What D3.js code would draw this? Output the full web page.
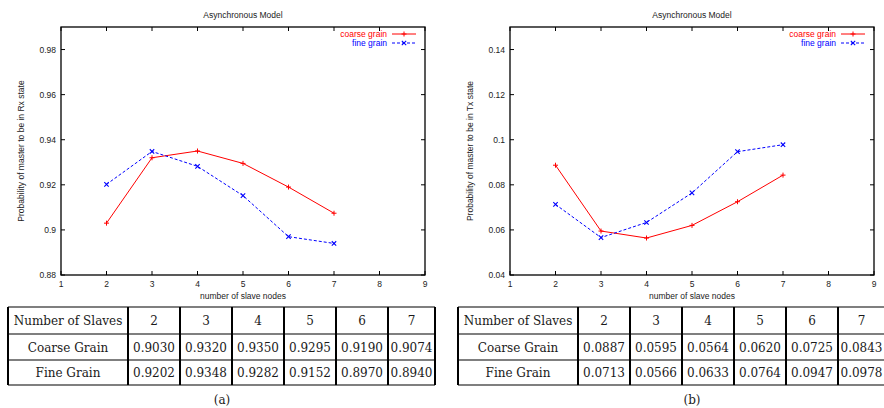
<!DOCTYPE html>
<html>
<head>
<meta charset="utf-8">
<script src="https://cdn.jsdelivr.net/npm/d3@7"></script>
<style>
  body { margin: 0; background: #fff; }
  svg { display: block; }
  .lbl { font-family: "Liberation Sans", Arial, sans-serif; font-size: 8.5px; fill: #222; }
  .tbl { font-family: "DejaVu Serif", "Liberation Serif", serif; font-size: 12px; fill: #1a1a1a; }
</style>
</head>
<body>
<svg id="chart" width="884" height="408"></svg>
<script>
// data
var slaves = [2, 3, 4, 5, 6, 7];
var rxCoarse = [0.9030, 0.9320, 0.9350, 0.9295, 0.9190, 0.9074];
var rxFine   = [0.9202, 0.9348, 0.9282, 0.9152, 0.8970, 0.8940];
var txCoarse = [0.0887, 0.0595, 0.0564, 0.0620, 0.0725, 0.0843];
var txFine   = [0.0713, 0.0566, 0.0633, 0.0764, 0.0947, 0.0978];
var xTicks = [1, 2, 3, 4, 5, 6, 7, 8, 9];
var rxTicks = [0.88, 0.9, 0.92, 0.94, 0.96, 0.98];
var txTicks = [0.04, 0.06, 0.08, 0.1, 0.12, 0.14];
var rxStr = { coarse: ["0.9030","0.9320","0.9350","0.9295","0.9190","0.9074"],
              fine:   ["0.9202","0.9348","0.9282","0.9152","0.8970","0.8940"] };
var txStr = { coarse: ["0.0887","0.0595","0.0564","0.0620","0.0725","0.0843"],
              fine:   ["0.0713","0.0566","0.0633","0.0764","0.0947","0.0978"] };

var svg = d3.select("#chart");

function drawPlot(left, yDomain, yTicks, coarse, fine, yLabel) {
  var g = svg.append("g");
  var x = d3.scaleLinear().domain([1, 9]).range([left, left + 364]);
  var y = d3.scaleLinear().domain(yDomain).range([275, 27]);
  var fmt = function(d) { return d3.format("~g")(+d.toFixed(4)); };

  // ticks, inward and mirrored
  var tl = 4;
  xTicks.forEach(function(t) {
    g.append("line").attr("x1", x(t)).attr("x2", x(t)).attr("y1", 275).attr("y2", 275 - tl).attr("stroke", "#000");
    g.append("line").attr("x1", x(t)).attr("x2", x(t)).attr("y1", 27).attr("y2", 27 + tl).attr("stroke", "#000");
    g.append("text").attr("class", "lbl").attr("x", x(t)).attr("y", 287)
      .attr("text-anchor", "middle").text(t);
  });
  yTicks.forEach(function(t) {
    g.append("line").attr("x1", left).attr("x2", left + tl).attr("y1", y(t)).attr("y2", y(t)).attr("stroke", "#000");
    g.append("line").attr("x1", left + 364).attr("x2", left + 364 - tl).attr("y1", y(t)).attr("y2", y(t)).attr("stroke", "#000");
    g.append("text").attr("class", "lbl").attr("x", left - 5).attr("y", y(t) + 3)
      .attr("text-anchor", "end").text(fmt(t));
  });

  g.append("rect").attr("x", left).attr("y", 27).attr("width", 364).attr("height", 248)
    .attr("fill", "none").attr("stroke", "#000").attr("stroke-width", 1.3);

  g.append("text").attr("class", "lbl").attr("x", left + 182).attr("y", 18)
    .attr("text-anchor", "middle").text("Asynchronous Model");
  g.append("text").attr("class", "lbl").attr("x", left + 182).attr("y", 299)
    .attr("text-anchor", "middle").text("number of slave nodes");
  g.append("text").attr("class", "lbl")
    .attr("transform", "translate(" + (left - 37) + ",151) rotate(-90)")
    .attr("text-anchor", "middle").text(yLabel);

  var line = d3.line().x(function(d, i) { return x(slaves[i]); }).y(function(d) { return y(d); });

  g.append("path").datum(coarse).attr("d", line).attr("fill", "none")
    .attr("stroke", "#ff0000").attr("stroke-width", 1);
  g.append("path").datum(fine).attr("d", line).attr("fill", "none")
    .attr("stroke", "#0000ff").attr("stroke-width", 1).attr("stroke-dasharray", "3,2");

  function plus(px, py, col) {
    g.append("path").attr("d", "M" + (px - 2.5) + "," + py + "H" + (px + 2.5) + "M" + px + "," + (py - 2.5) + "V" + (py + 2.5))
      .attr("stroke", col).attr("stroke-width", 1);
  }
  function cross(px, py, col) {
    g.append("path").attr("d", "M" + (px - 2.2) + "," + (py - 2.2) + "L" + (px + 2.2) + "," + (py + 2.2) +
      "M" + (px - 2.2) + "," + (py + 2.2) + "L" + (px + 2.2) + "," + (py - 2.2))
      .attr("stroke", col).attr("stroke-width", 1.1);
  }
  coarse.forEach(function(v, i) { plus(x(slaves[i]), y(v), "#ff0000"); });
  fine.forEach(function(v, i) { cross(x(slaves[i]), y(v), "#0000ff"); });

  // legend
  var lx = left + 331, ly1 = 34, ly2 = 43;
  g.append("text").attr("class", "lbl").attr("x", lx - 5).attr("y", ly1 + 3)
    .attr("text-anchor", "end").style("fill", "#ff0000").text("coarse grain");
  g.append("line").attr("x1", lx).attr("x2", lx + 24).attr("y1", ly1).attr("y2", ly1).attr("stroke", "#ff0000");
  plus(lx + 12, ly1, "#ff0000");
  g.append("text").attr("class", "lbl").attr("x", lx - 5).attr("y", ly2 + 3)
    .attr("text-anchor", "end").style("fill", "#0000ff").text("fine grain");
  g.append("line").attr("x1", lx).attr("x2", lx + 24).attr("y1", ly2).attr("y2", ly2)
    .attr("stroke", "#0000ff").attr("stroke-dasharray", "3,2");
  cross(lx + 12, ly2, "#0000ff");
}

function drawTable(left, strs, caption, capX) {
  var g = svg.append("g");
  var colW = 52, firstW = 120;
  var rows = [["Number of Slaves"].concat(slaves.map(String)),
              ["Coarse Grain"].concat(strs.coarse),
              ["Fine Grain"].concat(strs.fine)];
  var rowY = [307, 334, 360, 385];
  var colX = [left, left + firstW];
  slaves.forEach(function(s, i) { colX.push(left + firstW + colW * (i + 1) - (i == 5 ? 5 : 0)); });

  rows.forEach(function(r, ri) {
    r.forEach(function(c, ci) {
      g.append("text").attr("class", "tbl")
        .attr("x", (colX[ci] + colX[ci + 1]) / 2)
        .attr("y", (rowY[ri] + rowY[ri + 1]) / 2 + 4.5)
        .attr("text-anchor", "middle").text(c);
    });
  });
  rowY.forEach(function(yy) {
    g.append("line").attr("x1", colX[0]).attr("x2", colX[colX.length - 1])
      .attr("y1", yy).attr("y2", yy).attr("stroke", "#000").attr("stroke-width", 1.1);
  });
  colX.forEach(function(xx) {
    g.append("line").attr("x1", xx).attr("x2", xx).attr("y1", rowY[0]).attr("y2", rowY[3])
      .attr("stroke", "#000").attr("stroke-width", 2);
  });
  g.append("text").attr("class", "tbl").attr("x", capX).attr("y", 404)
    .attr("text-anchor", "middle").text(caption);
}

drawPlot(61, [0.88, 0.99], rxTicks, rxCoarse, rxFine, "Probability of master to be in Rx state");
drawPlot(510, [0.04, 0.15], txTicks, txCoarse, txFine, "Probability of master to be in Tx state");
drawTable(8, rxStr, "(a)", 222);
drawTable(458, txStr, "(b)", 692);
</script>
</body>
</html>
